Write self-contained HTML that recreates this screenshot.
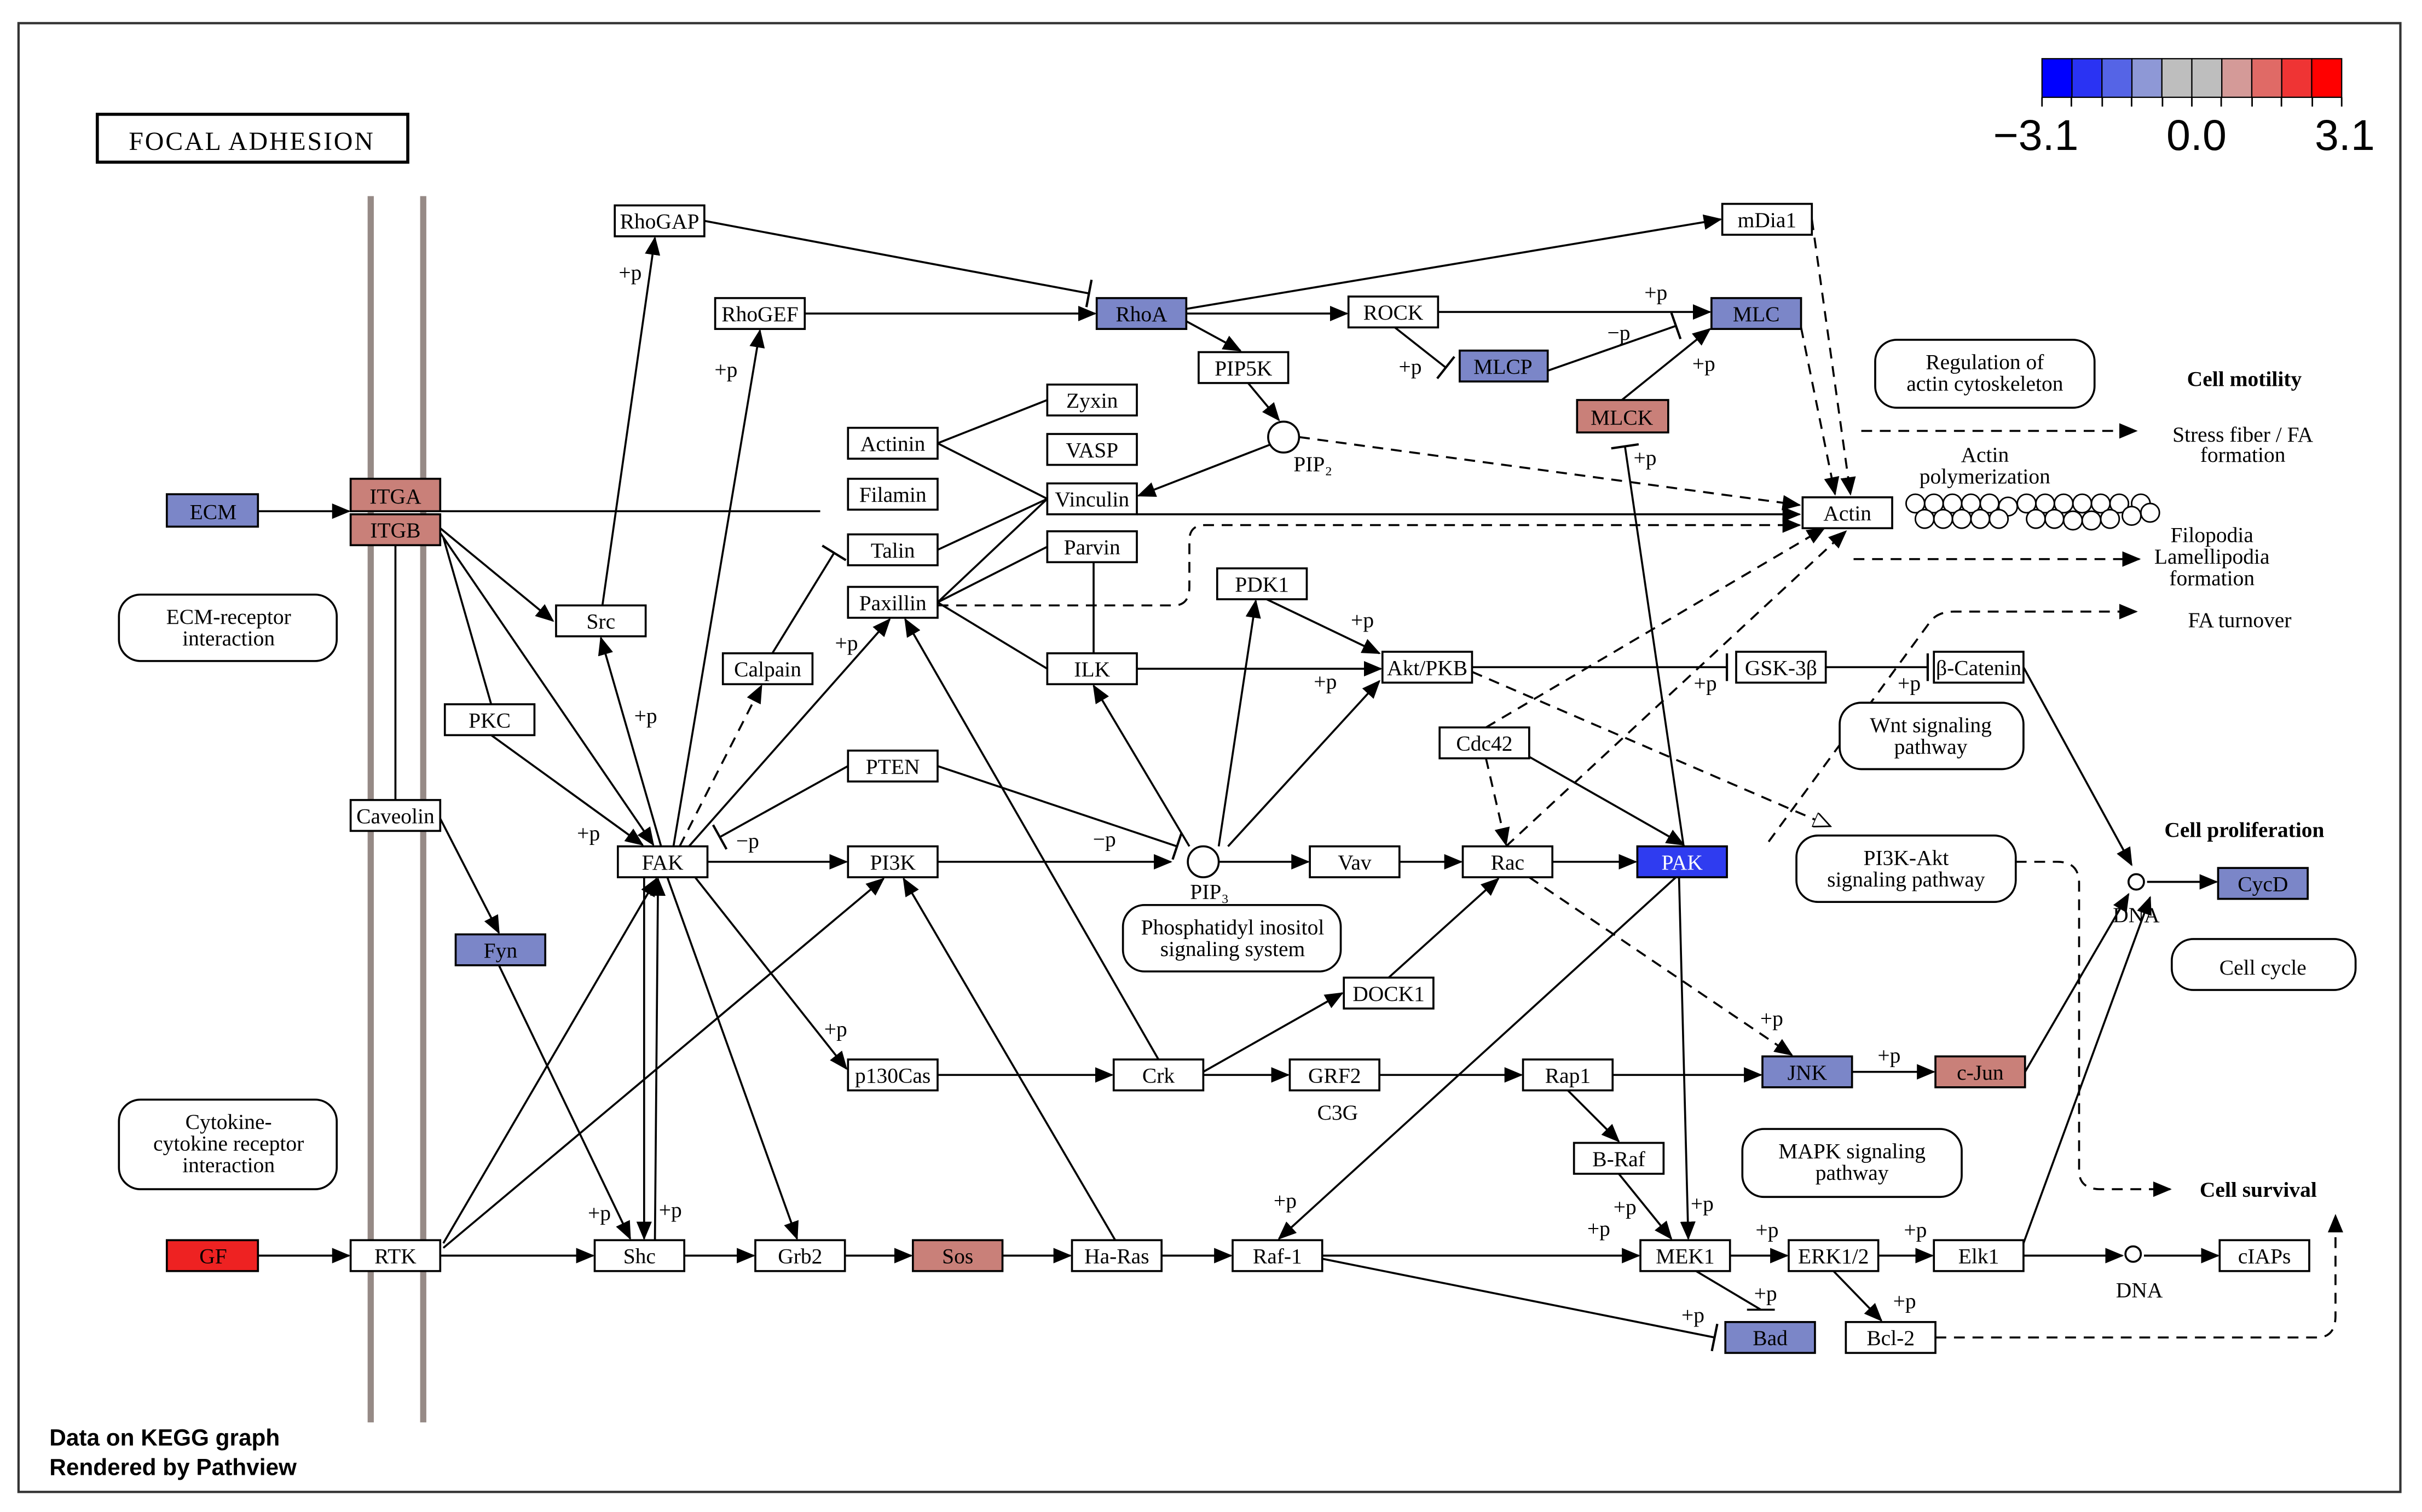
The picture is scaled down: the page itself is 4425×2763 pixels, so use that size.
<!DOCTYPE html>
<html><head><meta charset="utf-8"><style>
html,body{margin:0;padding:0;background:#fff;}
svg{display:block;}
.b{fill:#fff;stroke:#000;stroke-width:1.3;}
.bl{fill:#7b86c8;stroke:#000;stroke-width:1.3;}
.sa{fill:#c98079;stroke:#000;stroke-width:1.3;}
.rd{fill:#ee2222;stroke:#000;stroke-width:1.3;}
.pk{fill:#2f3cf0;stroke:#000;stroke-width:1.3;}
.rb{fill:#fff;stroke:#000;stroke-width:1.3;}
text{font-family:"Liberation Serif",serif;font-size:14px;text-anchor:middle;fill:#000;}
.s{font-size:13px;}
.bd{font-weight:bold;font-size:14px;}
.l{stroke:#000;stroke-width:1.3;fill:none;}
.d{stroke:#000;stroke-width:1.3;fill:none;stroke-dasharray:7,5;}
.a{marker-end:url(#ar);}
.t{marker-end:url(#tb);}
.o{marker-end:url(#oa);}
</style></head><body>
<svg width="4425" height="2763" viewBox="0 0 1568 979" preserveAspectRatio="none" xmlns="http://www.w3.org/2000/svg">
<defs>
<marker id="ar" markerWidth="12" markerHeight="10" refX="11" refY="5" orient="auto" markerUnits="userSpaceOnUse"><path d="M0,0 L12,5 L0,10 z" fill="#000"/></marker>
<marker id="tb" markerWidth="4" markerHeight="18" refX="2" refY="9" orient="auto" markerUnits="userSpaceOnUse"><path d="M2,0 L2,18" stroke="#000" stroke-width="1.5"/></marker>
<marker id="oa" markerWidth="12" markerHeight="10" refX="11" refY="5" orient="auto" markerUnits="userSpaceOnUse"><path d="M0,0 L11,5 L0,10 z" fill="#fff" stroke="#000" stroke-width="1"/></marker>
</defs>
<rect x="0" y="0" width="1568" height="979" fill="#fff"/>
<rect x="12" y="15" width="1542" height="951" fill="none" stroke="#333" stroke-width="1.5"/>

<!-- legend -->
<g stroke="#000" stroke-width="0.8">
<rect x="1322" y="38" width="19.4" height="25" fill="#0000ff"/>
<rect x="1341.4" y="38" width="19.4" height="25" fill="#2a33f3"/>
<rect x="1360.8" y="38" width="19.4" height="25" fill="#5564e6"/>
<rect x="1380.2" y="38" width="19.4" height="25" fill="#8e98d6"/>
<rect x="1399.6" y="38" width="19.4" height="25" fill="#bebebe"/>
<rect x="1419" y="38" width="19.4" height="25" fill="#bebebe"/>
<rect x="1438.4" y="38" width="19.4" height="25" fill="#d49a98"/>
<rect x="1457.8" y="38" width="19.4" height="25" fill="#e06a66"/>
<rect x="1477.2" y="38" width="19.4" height="25" fill="#ef3434"/>
<rect x="1496.6" y="38" width="19.4" height="25" fill="#ff0000"/>
</g>
<g stroke="#000" stroke-width="1"><line x1="1322" y1="63" x2="1322" y2="69"/><line x1="1341" y1="63" x2="1341" y2="69"/><line x1="1361" y1="63" x2="1361" y2="69"/><line x1="1380" y1="63" x2="1380" y2="69"/><line x1="1400" y1="63" x2="1400" y2="69"/><line x1="1419" y1="63" x2="1419" y2="69"/><line x1="1438" y1="63" x2="1438" y2="69"/><line x1="1458" y1="63" x2="1458" y2="69"/><line x1="1477" y1="63" x2="1477" y2="69"/><line x1="1497" y1="63" x2="1497" y2="69"/><line x1="1516" y1="63" x2="1516" y2="69"/></g>
<text x="1318" y="97" style="font-family:'Liberation Sans',sans-serif;font-size:28px">−3.1</text>
<text x="1422" y="97" style="font-family:'Liberation Sans',sans-serif;font-size:28px">0.0</text>
<text x="1518" y="97" style="font-family:'Liberation Sans',sans-serif;font-size:28px">3.1</text>

<!-- title -->
<rect x="63" y="74" width="201" height="31" fill="#fff" stroke="#000" stroke-width="2"/>
<text x="163" y="97" style="font-size:17px;letter-spacing:1px">FOCAL ADHESION</text>

<!-- membrane -->
<line x1="240" y1="127" x2="240" y2="921" stroke="#968a86" stroke-width="4"/>
<line x1="274" y1="127" x2="274" y2="921" stroke="#968a86" stroke-width="4"/>
<line x1="256" y1="353" x2="256" y2="518" class="l"/>

<!-- footer -->
<text x="32" y="936" style="font-family:'Liberation Sans',sans-serif;font-weight:bold;font-size:15px;text-anchor:start">Data on KEGG graph</text>
<text x="32" y="955" style="font-family:'Liberation Sans',sans-serif;font-weight:bold;font-size:15px;text-anchor:start">Rendered by Pathview</text>

<!-- edges -->
<line x1="167" y1="331" x2="226" y2="331" class="l a"/>
<line x1="285" y1="331" x2="531" y2="331" class="l"/>
<line x1="285" y1="342" x2="358" y2="402" class="l a"/>
<line x1="285" y1="345" x2="423" y2="547" class="l a"/>
<line x1="287" y1="348" x2="318" y2="456" class="l"/>
<line x1="318" y1="476" x2="416" y2="547" class="l a"/>
<line x1="390" y1="392" x2="424" y2="154" class="l a"/>
<line x1="436" y1="548" x2="492" y2="214" class="l a"/>
<line x1="428" y1="548" x2="389" y2="413" class="l a"/>
<line x1="440" y1="548" x2="493" y2="444" class="d a"/>
<line x1="446" y1="548" x2="576" y2="401" class="l a"/>
<line x1="500" y1="423" x2="540" y2="358" class="l t"/>
<line x1="549" y1="496" x2="466" y2="542" class="l t"/>
<line x1="607" y1="496" x2="762" y2="548" class="l t"/>
<line x1="458" y1="558" x2="548" y2="558" class="l a"/>
<line x1="607" y1="558" x2="758" y2="558" class="l a"/>
<line x1="450" y1="568" x2="548" y2="692" class="l a"/>
<line x1="432" y1="568" x2="516" y2="802" class="l a"/>
<line x1="417" y1="568" x2="417" y2="802" class="l a"/>
<line x1="424" y1="803" x2="426" y2="569" class="l a"/>
<line x1="287" y1="805" x2="425" y2="569" class="l a"/>
<line x1="287" y1="808" x2="572" y2="569" class="l a"/>
<line x1="285" y1="813" x2="384" y2="813" class="l a"/>
<line x1="167" y1="813" x2="226" y2="813" class="l a"/>
<line x1="323" y1="625" x2="408" y2="802" class="l a"/>
<line x1="285" y1="530" x2="323" y2="604" class="l a"/>
<line x1="443" y1="813" x2="488" y2="813" class="l a"/>
<line x1="547" y1="813" x2="590" y2="813" class="l a"/>
<line x1="649" y1="813" x2="693" y2="813" class="l a"/>
<line x1="752" y1="813" x2="797" y2="813" class="l a"/>
<line x1="722" y1="803" x2="585" y2="569" class="l a"/>
<line x1="750" y1="686" x2="586" y2="401" class="l a"/>
<line x1="607" y1="696" x2="720" y2="696" class="l a"/>
<line x1="779" y1="694" x2="869" y2="643" class="l a"/>
<line x1="779" y1="696" x2="834" y2="696" class="l a"/>
<line x1="893" y1="696" x2="985" y2="696" class="l a"/>
<line x1="1044" y1="696" x2="1140" y2="696" class="l a"/>
<line x1="1015" y1="706" x2="1048" y2="739" class="l a"/>
<line x1="1048" y1="760" x2="1082" y2="802" class="l a"/>
<line x1="899" y1="633" x2="970" y2="569" class="l a"/>
<line x1="789" y1="558" x2="847" y2="558" class="l a"/>
<line x1="906" y1="558" x2="946" y2="558" class="l a"/>
<line x1="1005" y1="558" x2="1059" y2="558" class="l a"/>
<line x1="962" y1="491" x2="975" y2="547" class="d a"/>
<line x1="990" y1="490" x2="1090" y2="547" class="l a"/>
<line x1="962" y1="471" x2="1181" y2="342" class="d a"/>
<line x1="975" y1="548" x2="1195" y2="344" class="d a"/>
<line x1="990" y1="568" x2="1160" y2="683" class="d a"/>
<line x1="1087" y1="568" x2="1093" y2="802" class="l a"/>
<line x1="1085" y1="568" x2="828" y2="802" class="l a"/>
<line x1="1090" y1="548" x2="1052" y2="289" class="l t"/>
<line x1="789" y1="548" x2="813" y2="389" class="l a"/>
<line x1="795" y1="548" x2="893" y2="441" class="l a"/>
<line x1="770" y1="548" x2="708" y2="444" class="l a"/>
<line x1="820" y1="388" x2="893" y2="423" class="l a"/>
<line x1="736" y1="433" x2="894" y2="433" class="l a"/>
<line x1="953" y1="432" x2="1118" y2="432" class="l t"/>
<line x1="1182" y1="432" x2="1248" y2="432" class="l t"/>
<line x1="953" y1="435" x2="1185" y2="535" class="d o"/>
<line x1="1310" y1="432" x2="1380" y2="560" class="l a"/>
<line x1="1390" y1="571" x2="1435" y2="571" class="l a"/>
<path d="M1305,558 L1332,558 Q1346,558 1346,572 L1346,758 Q1346,770 1360,770 L1405,770" class="d a"/>
<line x1="1311" y1="694" x2="1378" y2="579" class="l a"/>
<line x1="1199" y1="694" x2="1252" y2="694" class="l a"/>
<line x1="856" y1="813" x2="1061" y2="813" class="l a"/>
<line x1="856" y1="815" x2="1110" y2="866" class="l t"/>
<line x1="1120" y1="813" x2="1157" y2="813" class="l a"/>
<line x1="1098" y1="823" x2="1140" y2="848" class="l"/><line x1="1131" y1="848" x2="1149" y2="848" class="l"/>
<line x1="1187" y1="823" x2="1218" y2="855" class="l a"/>
<line x1="1216" y1="813" x2="1251" y2="813" class="l a"/>
<line x1="1310" y1="813" x2="1374" y2="813" class="l a"/>
<line x1="1310" y1="805" x2="1392" y2="581" class="l a"/>
<line x1="1388" y1="813" x2="1436" y2="813" class="l a"/>
<path d="M1253,866 L1500,866 Q1512,866 1512,852 L1512,787" class="d a"/>
<line x1="456" y1="143" x2="705" y2="190" class="l t"/>
<line x1="521" y1="203" x2="709" y2="203" class="l a"/>
<line x1="768" y1="200" x2="1114" y2="142" class="l a"/>
<line x1="768" y1="203" x2="872" y2="203" class="l a"/>
<line x1="768" y1="208" x2="803" y2="227" class="l a"/>
<line x1="931" y1="202" x2="1107" y2="202" class="l a"/>
<line x1="903" y1="212" x2="936" y2="238" class="l t"/>
<line x1="1002" y1="240" x2="1085" y2="211" class="l t"/>
<line x1="1050" y1="259" x2="1107" y2="213" class="l a"/>
<line x1="808" y1="248" x2="828" y2="272" class="l a"/>
<line x1="822" y1="288" x2="737" y2="321" class="l a"/>
<line x1="841" y1="283" x2="1165" y2="327" class="d a"/>
<line x1="1173" y1="142" x2="1198" y2="320" class="d a"/>
<line x1="1166" y1="212" x2="1188" y2="320" class="d a"/>
<line x1="736" y1="333" x2="1165" y2="333" class="l a"/>
<path d="M607,392 L760,392 Q770,392 770,380 L770,350 Q770,340 780,340 L1165,340" class="d a"/>
<line x1="607" y1="287" x2="678" y2="259" class="l"/>
<line x1="607" y1="287" x2="678" y2="323" class="l"/>
<line x1="607" y1="356" x2="678" y2="323" class="l"/>
<line x1="607" y1="390" x2="678" y2="323" class="l"/>
<line x1="607" y1="390" x2="678" y2="354" class="l"/>
<line x1="607" y1="390" x2="678" y2="433" class="l"/>
<line x1="708" y1="364" x2="708" y2="423" class="l"/>
<line x1="1205" y1="279" x2="1383" y2="279" class="d a"/>
<line x1="1200" y1="362" x2="1385" y2="362" class="d a"/>
<path d="M1145,545 L1250,402 Q1255,396 1265,396 L1383,396" class="d a"/>

<!-- circles -->
<circle cx="831" cy="283" r="10" fill="#fff" stroke="#000" stroke-width="1.3"/>
<text x="850" y="305">PIP₂</text>
<circle cx="779" cy="558" r="10" fill="#fff" stroke="#000" stroke-width="1.3"/>
<text x="783" y="582">PIP₃</text>
<circle cx="1383" cy="571" r="5" fill="#fff" stroke="#000" stroke-width="1.3"/>
<text x="1383" y="597">DNA</text>
<circle cx="1381" cy="812" r="5" fill="#fff" stroke="#000" stroke-width="1.3"/>
<text x="1385" y="840">DNA</text>

<!-- actin polymer -->
<g fill="#fff" stroke="#000" stroke-width="1">
<circle cx="1240" cy="326" r="6"/><circle cx="1252" cy="326" r="6"/><circle cx="1264" cy="326" r="6"/><circle cx="1276" cy="326" r="6"/><circle cx="1288" cy="326" r="6"/><circle cx="1300" cy="328" r="6"/><circle cx="1312" cy="326" r="6"/><circle cx="1324" cy="326" r="6"/><circle cx="1336" cy="326" r="6"/><circle cx="1348" cy="326" r="6"/><circle cx="1360" cy="326" r="6"/><circle cx="1372" cy="326" r="6"/><circle cx="1386" cy="326" r="6"/>
<circle cx="1246" cy="336" r="6"/><circle cx="1258" cy="336" r="6"/><circle cx="1270" cy="336" r="6"/><circle cx="1282" cy="336" r="6"/><circle cx="1294" cy="336" r="6"/><circle cx="1318" cy="336" r="6"/><circle cx="1330" cy="336" r="6"/><circle cx="1342" cy="337" r="6"/><circle cx="1354" cy="337" r="6"/><circle cx="1366" cy="336" r="6"/><circle cx="1380" cy="334" r="6"/><circle cx="1392" cy="332" r="6"/>
</g>

<!-- +p labels -->
<g class="s">
<text x="408" y="181">+p</text><text x="470" y="244">+p</text><text x="418" y="468">+p</text><text x="548" y="421">+p</text>
<text x="484" y="549">−p</text><text x="715" y="548">−p</text><text x="381" y="544">+p</text><text x="541" y="671">+p</text>
<text x="388" y="790">+p</text><text x="434" y="788">+p</text><text x="832" y="782">+p</text><text x="1102" y="784">+p</text>
<text x="1052" y="786">+p</text><text x="1035" y="800">+p</text><text x="1144" y="801">+p</text><text x="1143" y="842">+p</text>
<text x="1096" y="856">+p</text><text x="1240" y="801">+p</text><text x="1233" y="847">+p</text><text x="1223" y="688">+p</text>
<text x="1147" y="664">+p</text><text x="858" y="446">+p</text><text x="882" y="406">+p</text><text x="1104" y="447">+p</text>
<text x="1236" y="447">+p</text><text x="1065" y="301">+p</text><text x="1103" y="240">+p</text><text x="1072" y="194">+p</text>
<text x="913" y="242">+p</text><text x="1048" y="220">−p</text>
</g>

<!-- nodes -->
<rect class="bl" x="108" y="320" width="59" height="21"/><text x="138" y="336">ECM</text>
<rect class="sa" x="227" y="310" width="58" height="21"/><text x="256" y="326">ITGA</text>
<rect class="sa" x="227" y="333" width="58" height="20"/><text x="256" y="348">ITGB</text>
<rect class="b" x="398" y="133" width="58" height="20"/><text x="427" y="148">RhoGAP</text>
<rect class="b" x="463" y="193" width="58" height="20"/><text x="492" y="208">RhoGEF</text>
<rect class="bl" x="710" y="193" width="58" height="20"/><text x="739" y="208">RhoA</text>
<rect class="b" x="1115" y="132" width="58" height="20"/><text x="1144" y="147">mDia1</text>
<rect class="b" x="873" y="192" width="58" height="20"/><text x="902" y="207">ROCK</text>
<rect class="bl" x="1108" y="193" width="58" height="20"/><text x="1137" y="208">MLC</text>
<rect class="bl" x="945" y="227" width="57" height="20"/><text x="973" y="242">MLCP</text>
<rect class="sa" x="1021" y="259" width="59" height="21"/><text x="1050" y="275">MLCK</text>
<rect class="b" x="776" y="228" width="58" height="20"/><text x="805" y="243">PIP5K</text>
<rect class="b" x="678" y="249" width="58" height="20"/><text x="707" y="264">Zyxin</text>
<rect class="b" x="678" y="281" width="58" height="20"/><text x="707" y="296">VASP</text>
<rect class="b" x="678" y="313" width="58" height="20"/><text x="707" y="328">Vinculin</text>
<rect class="b" x="549" y="277" width="58" height="20"/><text x="578" y="292">Actinin</text>
<rect class="b" x="549" y="310" width="58" height="20"/><text x="578" y="325">Filamin</text>
<rect class="b" x="549" y="346" width="58" height="20"/><text x="578" y="361">Talin</text>
<rect class="b" x="678" y="344" width="58" height="20"/><text x="707" y="359">Parvin</text>
<rect class="b" x="549" y="380" width="58" height="20"/><text x="578" y="395">Paxillin</text>
<rect class="b" x="468" y="423" width="58" height="20"/><text x="497" y="438">Calpain</text>
<rect class="b" x="678" y="423" width="58" height="20"/><text x="707" y="438">ILK</text>
<rect class="b" x="788" y="368" width="58" height="20"/><text x="817" y="383">PDK1</text>
<rect class="b" x="895" y="422" width="58" height="20"/><text x="924" y="437">Akt/PKB</text>
<rect class="b" x="1124" y="422" width="58" height="20"/><text x="1153" y="437">GSK-3β</text>
<rect class="b" x="1252" y="422" width="58" height="20"/><text x="1281" y="437">β-Catenin</text>
<rect class="b" x="932" y="471" width="58" height="20"/><text x="961" y="486">Cdc42</text>
<rect class="b" x="1167" y="322" width="58" height="20"/><text x="1196" y="337">Actin</text>
<rect class="b" x="360" y="392" width="58" height="20"/><text x="389" y="407">Src</text>
<rect class="b" x="288" y="456" width="58" height="20"/><text x="317" y="471">PKC</text>
<rect class="b" x="549" y="486" width="58" height="20"/><text x="578" y="501">PTEN</text>
<rect class="b" x="227" y="518" width="58" height="20"/><text x="256" y="533">Caveolin</text>
<rect class="b" x="400" y="548" width="58" height="20"/><text x="429" y="563">FAK</text>
<rect class="b" x="549" y="548" width="58" height="20"/><text x="578" y="563">PI3K</text>
<rect class="b" x="848" y="548" width="58" height="20"/><text x="877" y="563">Vav</text>
<rect class="b" x="947" y="548" width="58" height="20"/><text x="976" y="563">Rac</text>
<rect class="pk" x="1060" y="548" width="58" height="20"/><text x="1089" y="563" style="fill:#fff">PAK</text>
<rect class="bl" x="295" y="605" width="58" height="20"/><text x="324" y="620">Fyn</text>
<rect class="b" x="870" y="633" width="58" height="20"/><text x="899" y="648">DOCK1</text>
<rect class="b" x="549" y="686" width="58" height="20"/><text x="578" y="701">p130Cas</text>
<rect class="b" x="721" y="686" width="58" height="20"/><text x="750" y="701">Crk</text>
<rect class="b" x="835" y="686" width="58" height="20"/><text x="864" y="701">GRF2</text>
<text x="866" y="725">C3G</text>
<rect class="b" x="986" y="686" width="58" height="20"/><text x="1015" y="701">Rap1</text>
<rect class="bl" x="1141" y="684" width="58" height="20"/><text x="1170" y="699">JNK</text>
<rect class="sa" x="1253" y="684" width="58" height="20"/><text x="1282" y="699">c-Jun</text>
<rect class="b" x="1019" y="740" width="58" height="20"/><text x="1048" y="755">B-Raf</text>
<rect class="rd" x="108" y="803" width="59" height="20"/><text x="138" y="818">GF</text>
<rect class="b" x="227" y="803" width="58" height="20"/><text x="256" y="818">RTK</text>
<rect class="b" x="385" y="803" width="58" height="20"/><text x="414" y="818">Shc</text>
<rect class="b" x="489" y="803" width="58" height="20"/><text x="518" y="818">Grb2</text>
<rect class="sa" x="591" y="803" width="58" height="20"/><text x="620" y="818">Sos</text>
<rect class="b" x="694" y="803" width="58" height="20"/><text x="723" y="818">Ha-Ras</text>
<rect class="b" x="798" y="803" width="58" height="20"/><text x="827" y="818">Raf-1</text>
<rect class="b" x="1062" y="803" width="58" height="20"/><text x="1091" y="818">MEK1</text>
<rect class="b" x="1158" y="803" width="58" height="20"/><text x="1187" y="818">ERK1/2</text>
<rect class="b" x="1252" y="803" width="58" height="20"/><text x="1281" y="818">Elk1</text>
<rect class="b" x="1437" y="803" width="58" height="20"/><text x="1466" y="818">cIAPs</text>
<rect class="bl" x="1117" y="856" width="58" height="20"/><text x="1146" y="871">Bad</text>
<rect class="b" x="1195" y="856" width="58" height="20"/><text x="1224" y="871">Bcl-2</text>
<rect class="bl" x="1436" y="562" width="58" height="20"/><text x="1465" y="577">CycD</text>

<!-- rounded pathway boxes -->
<rect class="rb" x="77" y="385" width="141" height="43" rx="14"/><text x="148" y="404">ECM-receptor</text><text x="148" y="418">interaction</text>
<rect class="rb" x="77" y="712" width="141" height="58" rx="14"/><text x="148" y="731">Cytokine-</text><text x="148" y="745">cytokine receptor</text><text x="148" y="759">interaction</text>
<rect class="rb" x="727" y="586" width="141" height="43" rx="14"/><text x="798" y="605">Phosphatidyl inositol</text><text x="798" y="619">signaling system</text>
<rect class="rb" x="1214" y="220" width="142" height="44" rx="14"/><text x="1285" y="239">Regulation of</text><text x="1285" y="253">actin cytoskeleton</text>
<rect class="rb" x="1191" y="455" width="119" height="43" rx="14"/><text x="1250" y="474">Wnt signaling</text><text x="1250" y="488">pathway</text>
<rect class="rb" x="1163" y="541" width="142" height="43" rx="14"/><text x="1234" y="560">PI3K-Akt</text><text x="1234" y="574">signaling pathway</text>
<rect class="rb" x="1128" y="731" width="142" height="44" rx="14"/><text x="1199" y="750">MAPK signaling</text><text x="1199" y="764">pathway</text>
<rect class="rb" x="1406" y="608" width="119" height="33" rx="14"/><text x="1465" y="631">Cell cycle</text>

<!-- outcome labels -->
<text x="1453" y="250" class="bd">Cell motility</text>
<text x="1453" y="542" class="bd">Cell proliferation</text>
<text x="1462" y="775" class="bd">Cell survival</text>
<text x="1452" y="286">Stress fiber / FA</text><text x="1452" y="299">formation</text>
<text x="1285" y="299">Actin</text><text x="1285" y="313">polymerization</text>
<text x="1432" y="351">Filopodia</text><text x="1432" y="365">Lamellipodia</text><text x="1432" y="379">formation</text>
<text x="1450" y="406">FA turnover</text>
</svg>
</body></html>
